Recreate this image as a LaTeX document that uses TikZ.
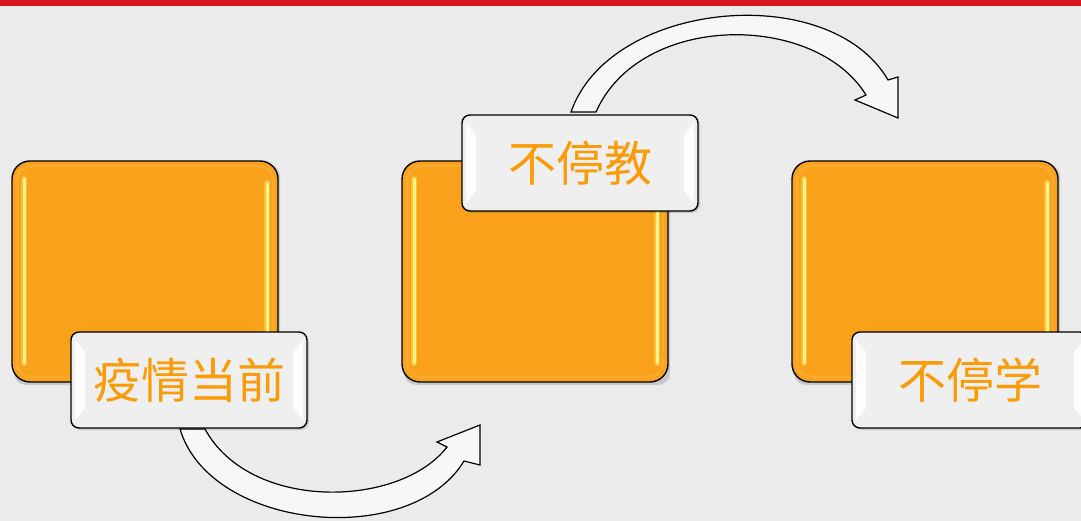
\documentclass[tikz,border=0pt]{standalone}
\usepackage{fontspec}
\newfontfamily\cjk{Noto Sans CJK SC}
\definecolor{bgc}{HTML}{EBEBEB}
\definecolor{redbar}{HTML}{D6151E}
\definecolor{orbox}{HTML}{F9A11A}
\definecolor{oredge}{HTML}{FBB545}
\definecolor{glow}{HTML}{FFF58A}
\definecolor{glowhalo}{HTML}{FFD34A}
\definecolor{lblfill}{HTML}{EFEFEF}
\definecolor{txtor}{HTML}{FA9C0A}
\definecolor{arrfill}{HTML}{F7F7F7}
\tikzset{
  orangebox/.style={fill=orbox, draw=black, line width=1.4pt, rounded corners=18pt},
  labelbox/.style={fill=lblfill, draw=black, line width=1.4pt, rounded corners=8pt},
  shadowbox/.style={fill=black, opacity=0.14, rounded corners=12pt},
  bevel/.style={fill=white, opacity=0.9},
  glowhaloline/.style={glowhalo, line width=6pt, line cap=round, opacity=0.6},
  glowline/.style={glow, line width=3pt, line cap=round},
  arrowshape/.style={fill=arrfill, draw=black, line width=1.2pt, line join=miter},
  labeltext/.style={text=txtor, font=\cjk\fontsize{48}{48}\selectfont, inner sep=0pt}
}
\newcommand{\orangeblock}[3]{% name, x0, y0
  \fill[shadowbox] (#2+2,#3+3) rectangle (#2+268,#3+224);
  \draw[orangebox] (#2,#3) rectangle (#2+266,#3+221);
  \draw[oredge, line width=3pt, rounded corners=14pt, opacity=0.5] (#2+5,#3+5) rectangle (#2+261,#3+216);
  \draw[glowhaloline] (#2+12,#3+18) -- (#2+12,#3+202);
  \draw[glowhaloline] (#2+255,#3+22) -- (#2+255,#3+202);
  \draw[glowline] (#2+12,#3+18) -- (#2+12,#3+202);
  \draw[glowline] (#2+255,#3+22) -- (#2+255,#3+202);
  \coordinate (#1) at (#2+133,#3+110.5);
}
\newcommand{\labelblock}[4]{% name, x0, y0, text
  \fill[shadowbox, rounded corners=8pt] (#2+2,#3+3) rectangle (#2+238,#3+98);
  \draw[labelbox] (#2,#3) rectangle (#2+236,#3+96);
  \fill[bevel] (#2+4,#3+8) -- (#2+14,#3+20) -- (#2+14,#3+76) -- (#2+4,#3+88) -- cycle;
  \fill[bevel] (#2+232,#3+8) -- (#2+222,#3+20) -- (#2+222,#3+76) -- (#2+232,#3+88) -- cycle;
  \node[labeltext] (#1) at (#2+118,#3+48) {#4};
}
\begin{document}
\begin{tikzpicture}[x=1pt,y=-1pt]
\useasboundingbox (0,0) rectangle (1081,521);
\fill[bgc] (0,0) rectangle (1081,521);
\fill[redbar] (0,0) rectangle (1081,6);
% orange blocks
\orangeblock{b1}{12}{161}
\orangeblock{b2}{402}{161}
\orangeblock{b3}{792}{161}
% bottom arrow
\draw[arrowshape] (180,429) .. controls (210,530) and (410,550) .. (464,461)
  -- (480,465) -- (480,425) -- (437,442) -- (447,447)
  .. controls (400,508) and (250,512) .. (205,429) -- cycle;
% top arrow
\draw[arrowshape] (571,112) .. controls (610,0) and (830,-20) .. (888,80)
  -- (898,77) -- (898,118) -- (855,100) -- (866,95)
  .. controls (815,12) and (640,12) .. (596,112) -- cycle;
% labels
\labelblock{l1}{71}{332}{疫情当前}
\labelblock{l2}{462}{115}{不停教}
\labelblock{l3}{852}{332}{不停学}
\end{tikzpicture}
\end{document}
